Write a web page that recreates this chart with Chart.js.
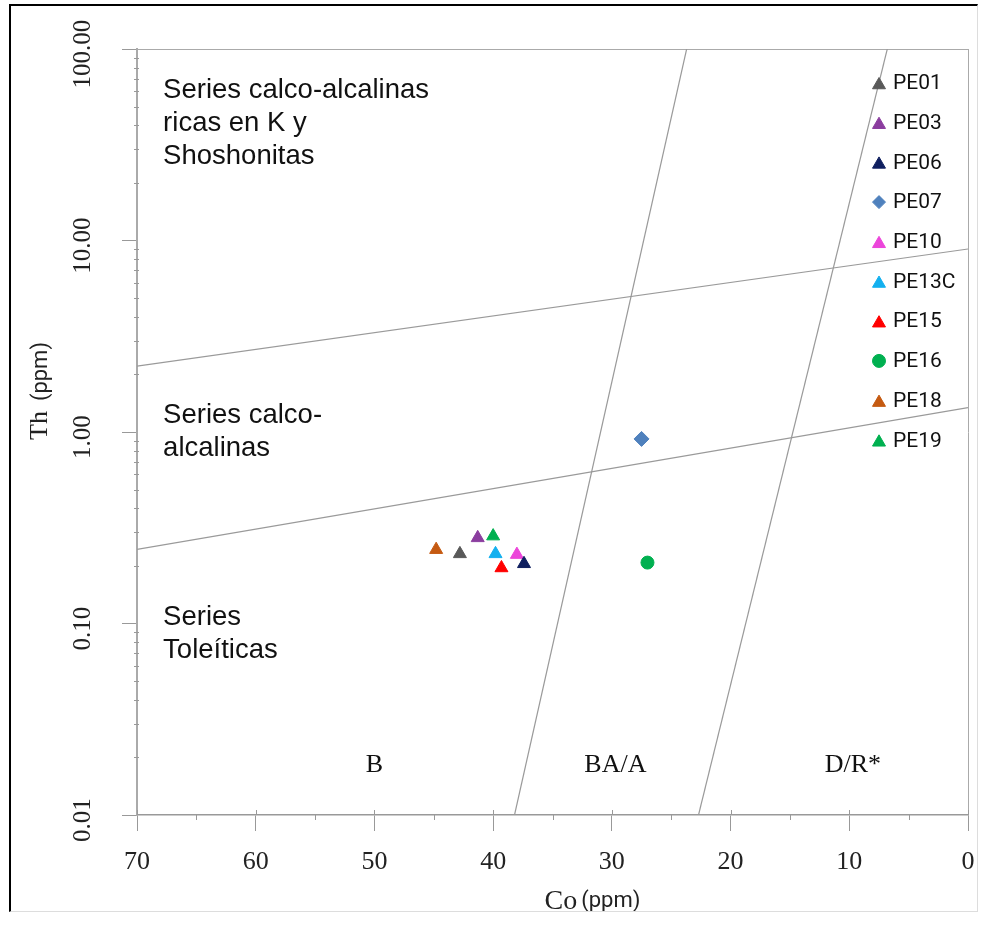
<!DOCTYPE html>
<html>
<head>
<meta charset="utf-8">
<script src="https://cdn.jsdelivr.net/npm/chart.js@4.4.1/dist/chart.umd.min.js"></script>
<style>
  html, body { margin: 0; padding: 0; background: #fff; }
  #wrap { position: relative; width: 982px; height: 926px; }
  #thCoChart { display: block; }
  #frame {
    position: absolute; left: 9px; top: 4px; width: 969px; height: 908px;
    box-sizing: border-box; pointer-events: none;
    border-top: 2px solid #000; border-left: 2px solid #000;
    border-right: 1px solid #ddd; border-bottom: 1px solid #ddd;
  }
</style>
</head>
<body>
<div id="wrap">
  <canvas id="thCoChart" width="982" height="926"></canvas>
  <div id="frame"></div>
</div>
<script>
// samples
const samples = ['PE01', 'PE03', 'PE06', 'PE07', 'PE10', 'PE13C', 'PE15', 'PE16', 'PE18', 'PE19'];
const coPpm = [42.8, 41.3, 37.4, 27.5, 38.0, 39.8, 39.3, 27.0, 44.8, 40.0];
const thPpm = [0.231, 0.280, 0.205, 0.92, 0.229, 0.231, 0.195, 0.208, 0.243, 0.286];

const sampleColors = ['#595959', '#8b3d9f', '#0f1f5f', '#4f81bd', '#ec45da', '#13b0ef', '#ff0000', '#00b050', '#c55a11', '#00b050'];
const sampleShapes = ['triangle', 'triangle', 'triangle', 'rectRot', 'triangle', 'triangle', 'triangle', 'circle', 'triangle', 'triangle'];

// field boundaries
const seriesLineCo = [70, 0];
const upperSeriesTh = [2.21, 9.03];
const lowerSeriesTh = [0.244, 1.34];
const rockLineTh = [0.01, 100];
const baBoundaryCo = [38.2, 23.7];
const drBoundaryCo = [22.7, 6.8];

// axes
const thTicks = [0.01, 0.1, 1, 10, 100];
const coTicks = [70, 60, 50, 40, 30, 20, 10, 0];
const coMinorTicks = [65, 55, 45, 35, 25, 15, 5];

// field names
const seriesNames = [
    ['Series calco-alcalinas', 'ricas en K y', 'Shoshonitas'],
    ['Series calco-', 'alcalinas'],
    ['Series', 'Toleíticas']
];
const seriesNameCo = [67.8, 67.8, 67.8];
const seriesNameTh = [55.5, 1.11, 0.098];
const rockNames = ['B', 'BA/A', 'D/R*'];
const rockNameCo = [50, 29.7, 9.7];
const rockNameTh = [0.0168, 0.0168, 0.0168];

const SERIF = '"Liberation Serif", "Times New Roman", serif';
const SANS = '"Liberation Sans", Arial, sans-serif';
const LEGEND_SANS = 'Roboto, "Liberation Sans", sans-serif';

const ctx = document.getElementById('thCoChart').getContext('2d');

function boundary(coArr, thArr) {
    return {
        type: 'scatter',
        data: coArr.map((c, i) => ({ x: c, y: thArr[i] })),
        showLine: true,
        borderColor: '#9a9a9a',
        borderWidth: 1.2,
        pointRadius: 0,
        order: 2,
        xAxisID: 'x',
        yAxisID: 'y'
    };
}

const sampleSets = samples.map((name, i) => ({
    type: 'scatter',
    label: name,
    isSample: true,
    data: [{ x: coPpm[i], y: thPpm[i] }],
    pointStyle: sampleShapes[i],
    pointRadius: sampleShapes[i] === 'circle' ? 6.5 : 7.5,
    backgroundColor: sampleColors[i],
    borderColor: sampleColors[i],
    borderWidth: 1,
    order: 0,
    xAxisID: 'x',
    yAxisID: 'y'
}));

function drawMarker(c, style, r, x, y) {
    if (Chart.helpers && Chart.helpers.drawPoint) {
        Chart.helpers.drawPoint(c, { pointStyle: style, radius: r, rotation: 0, borderWidth: 1 }, x, y);
        return;
    }
    c.beginPath();
    if (style === 'circle') {
        c.arc(x, y, r, 0, Math.PI * 2);
    } else if (style === 'rectRot') {
        c.moveTo(x, y - r); c.lineTo(x + r, y); c.lineTo(x, y + r); c.lineTo(x - r, y);
    } else {
        c.moveTo(x, y - r);
        c.lineTo(x + r * Math.sin(Math.PI * 2 / 3), y - r * Math.cos(Math.PI * 2 / 3));
        c.lineTo(x + r * Math.sin(Math.PI * 4 / 3), y - r * Math.cos(Math.PI * 4 / 3));
    }
    c.closePath();
    c.fill();
    c.stroke();
}

// minor ticks, axis titles, field names, legend
const decorations = {
    id: 'decorations',
    afterDraw(chart) {
        const c = chart.ctx;
        const area = chart.chartArea;
        const x = chart.scales.x;
        const y = chart.scales.y;
        c.save();

        c.strokeStyle = '#999';
        c.lineWidth = 1;
        c.beginPath();
        for (let d = 0; d < thTicks.length - 1; d++) {
            for (let m = 2; m <= 9; m++) {
                const py = Math.round(y.getPixelForValue(thTicks[d] * m)) + 0.5;
                c.moveTo(area.left - 3, py);
                c.lineTo(area.left + 2, py);
            }
        }
        coMinorTicks.forEach(v => {
            const px = Math.round(x.getPixelForValue(v)) + 0.5;
            c.moveTo(px, area.bottom);
            c.lineTo(px, area.bottom + 5);
        });
        coTicks.forEach(v => {
            const px = Math.round(x.getPixelForValue(v)) + 0.5;
            c.moveTo(px, area.bottom - 5);
            c.lineTo(px, area.bottom);
        });
        c.stroke();

        // field names
        c.fillStyle = '#111';
        c.textAlign = 'left';
        c.textBaseline = 'alphabetic';
        c.font = '27.5px ' + SANS;
        seriesNames.forEach((lines, i) => {
            const px = x.getPixelForValue(seriesNameCo[i]);
            const py = y.getPixelForValue(seriesNameTh[i]);
            lines.forEach((t, k) => c.fillText(t, px, py + k * 33));
        });
        c.font = '26px ' + SERIF;
        c.textAlign = 'center';
        rockNames.forEach((t, i) => {
            c.fillText(t, x.getPixelForValue(rockNameCo[i]), y.getPixelForValue(rockNameTh[i]));
        });

        // axis titles
        c.textAlign = 'left';
        c.fillStyle = '#222';
        c.save();
        c.translate(47, 440);
        c.rotate(-Math.PI / 2);
        c.font = '26px ' + SERIF;
        c.fillText('Th', 0, 0);
        const thW = c.measureText('Th').width;
        c.font = '22px ' + LEGEND_SANS;
        c.fillText('(ppm)', thW + 10, 0);
        c.restore();

        const cx = (area.left + area.right) / 2 - 8;
        c.font = '28px ' + SERIF;
        c.fillText('Co', cx, 909);
        const coW = c.measureText('Co').width;
        c.font = '22px ' + LEGEND_SANS;
        c.fillText('(ppm)', cx + coW + 4, 907);

        // legend
        const lx = area.right - 89;
        const ly = area.top + 34;
        c.font = '21px ' + LEGEND_SANS;
        c.textBaseline = 'middle';
        chart.data.datasets.filter(ds => ds.isSample).forEach((ds, i) => {
            const cy = ly + i * 39.7;
            const r = ds.pointStyle === 'triangle' ? 7.5 : 6.5;
            c.fillStyle = ds.backgroundColor;
            c.strokeStyle = ds.borderColor;
            c.lineWidth = 1;
            drawMarker(c, ds.pointStyle, r, lx, cy + (ds.pointStyle === 'triangle' ? 2 : 0));
            c.fillStyle = '#111';
            c.fillText(ds.label, lx + 14, cy + 1);
        });

        c.restore();
    }
};

const myChart = new Chart(ctx, {
    data: {
        datasets: [
            ...sampleSets,
            boundary(seriesLineCo, upperSeriesTh),
            boundary(seriesLineCo, lowerSeriesTh),
            boundary(baBoundaryCo, rockLineTh),
            boundary(drBoundaryCo, rockLineTh)
        ]
    },
    options: {
        responsive: false,
        animation: false,
        layout: { padding: { left: 0, right: 14, top: 49, bottom: 0 } },
        plugins: {
            legend: { display: false },
            tooltip: { enabled: false }
        },
        scales: {
            x: {
                type: 'linear',
                position: 'bottom',
                reverse: true,
                min: 0,
                max: 70,
                afterBuildTicks: s => { s.ticks = coTicks.map(v => ({ value: v })); },
                afterFit: s => { s.height = 111; s.paddingLeft = 0; s.paddingRight = 0; },
                ticks: {
                    autoSkip: false,
                    maxRotation: 0,
                    padding: 16,
                    color: '#222',
                    font: { family: SERIF, size: 26 }
                },
                grid: { drawOnChartArea: false, tickLength: 16, color: '#999' },
                border: { display: true, color: '#999', width: 1.5 }
            },
            y: {
                type: 'logarithmic',
                position: 'left',
                min: 0.01,
                max: 100,
                afterBuildTicks: s => { s.ticks = thTicks.map(v => ({ value: v })); },
                afterFit: s => { s.width = 137; s.paddingTop = 0; s.paddingBottom = 0; },
                ticks: {
                    minRotation: 90,
                    maxRotation: 90,
                    crossAlign: 'center',
                    padding: 4,
                    labelOffset: 5,
                    color: '#222',
                    font: { family: SERIF, size: 25 },
                    callback: v => Number(v).toFixed(2)
                },
                grid: { drawOnChartArea: false, tickLength: 15, color: '#999' },
                border: { display: true, color: '#aaa', width: 2 }
            },
            xTop: {
                type: 'linear',
                position: 'top',
                reverse: true,
                min: 0,
                max: 70,
                afterFit: s => { s.height = 0; s.paddingLeft = 0; s.paddingRight = 0; },
                ticks: { display: false },
                grid: { drawOnChartArea: false, drawTicks: false },
                border: { display: true, color: '#aaa', width: 1 }
            },
            yRight: {
                type: 'logarithmic',
                position: 'right',
                min: 0.01,
                max: 100,
                afterFit: s => { s.width = 0; s.paddingTop = 0; s.paddingBottom = 0; },
                ticks: { display: false },
                grid: { drawOnChartArea: false, drawTicks: false },
                border: { display: true, color: '#aaa', width: 1 }
            }
        }
    },
    plugins: [decorations]
});
</script>
</body>
</html>
